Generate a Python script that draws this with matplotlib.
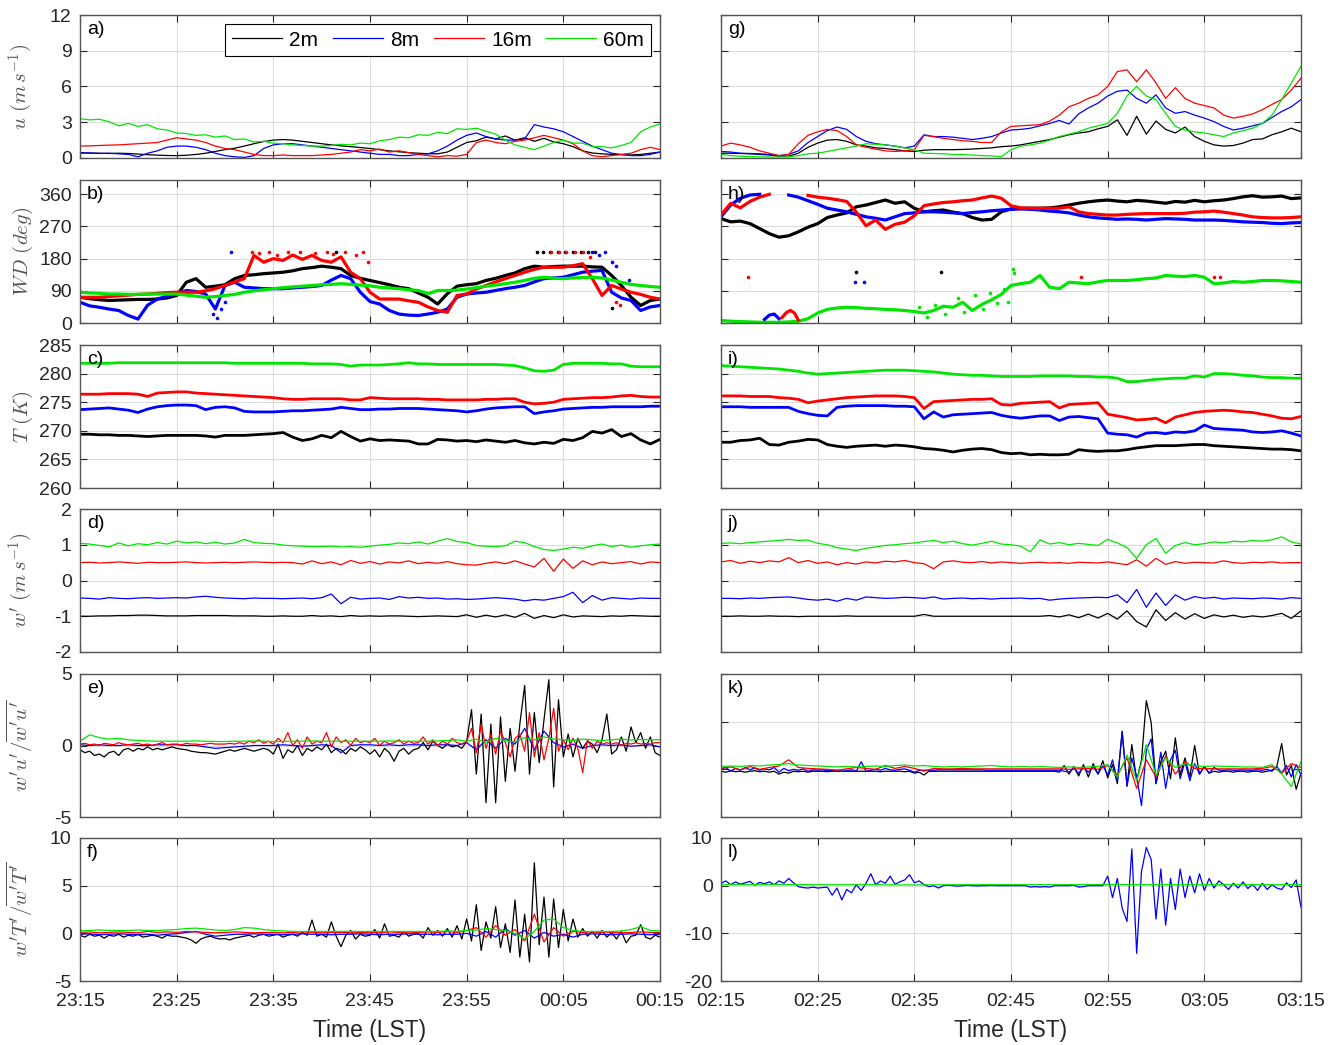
import matplotlib

matplotlib.use("Agg")

import matplotlib.pyplot as plt  # noqa: E402
import numpy as np  # noqa: E402

plt.rcParams["font.family"] = ["Liberation Sans", "DejaVu Sans"]
plt.rcParams["mathtext.fontset"] = "cm"
plt.rcParams["axes.unicode_minus"] = False

nan = np.nan

HEIGHTS = ["2m", "8m", "16m", "60m"]
COLORS = ["#000000", "#0000ff", "#ff0000", "#00e600"]

LEFT_TIME_LABELS = ["23:15", "23:25", "23:35", "23:45", "23:55", "00:05", "00:15"]
RIGHT_TIME_LABELS = ["02:15", "02:25", "02:35", "02:45", "02:55", "03:05", "03:15"]

# ---------------------------------------------------------------- a) wind speed (23:15-00:15)
a_2m = [0.45, 0.42, 0.40, 0.38, 0.40, 0.38, 0.33, 0.28, 0.24, 0.21,
        0.20, 0.23, 0.30, 0.40, 0.55, 0.70, 0.82, 1.00, 1.20, 1.38,
        1.50, 1.55, 1.50, 1.40, 1.30, 1.20, 1.10, 1.02, 0.95, 0.88,
        0.80, 0.70, 0.60, 0.52, 0.45, 0.40, 0.36, 0.35, 0.50, 0.90,
        1.30, 1.45, 1.75, 1.60, 1.85, 1.50, 1.70, 1.40, 1.65, 1.35,
        1.20, 0.95, 0.60, 0.42, 0.35, 0.30, 0.28, 0.25, 0.30, 0.40,
        0.50]
a_8m = [0.40, 0.42, 0.38, 0.40, 0.35, 0.30, 0.10, 0.40, 0.60, 0.90,
        1.00, 1.00, 0.90, 0.70, 0.40, 0.20, 0.10, 0.05, 0.20, 0.80,
        1.10, 1.20, 1.20, 1.10, 1.00, 0.90, 0.80, 0.70, 0.60, 0.50,
        0.40, 0.30, 0.30, 0.20, 0.20, 0.30, 0.35, 0.60, 1.00, 1.50,
        1.90, 2.10, 1.80, 1.60, 1.50, 1.50, 1.60, 2.80, 2.60, 2.45,
        2.20, 1.80, 1.40, 1.00, 0.70, 0.40, 0.30, 0.20, 0.20, 0.30,
        0.50]
a_16m = [1.00, 1.02, 1.05, 1.08, 1.10, 1.15, 1.20, 1.25, 1.30, 1.50,
         1.70, 1.60, 1.50, 1.30, 1.00, 0.80, 0.70, 0.50, 0.30, 0.20,
         0.20, 0.25, 0.20, 0.20, 0.20, 0.25, 0.30, 0.40, 0.50, 0.70,
         0.60, 0.75, 0.50, 0.60, 0.45, 0.30, 0.20, 0.10, 0.20, 0.15,
         0.30, 1.30, 1.50, 1.30, 1.20, 1.40, 1.50, 1.70, 1.90, 1.70,
         1.50, 1.20, 0.60, 0.20, 0.10, 0.20, 0.30, 0.40, 0.70, 0.90,
         0.70]
a_60m = [3.30, 3.20, 3.25, 3.05, 2.70, 2.90, 2.65, 2.80, 2.45, 2.35,
         2.10, 2.05, 1.90, 1.95, 1.75, 1.85, 1.55, 1.60, 1.35, 1.40,
         1.25, 1.20, 1.10, 1.05, 1.00, 1.00, 1.05, 1.15, 1.10, 1.25,
         1.20, 1.45, 1.55, 1.75, 1.70, 1.95, 1.90, 2.15, 2.05, 2.45,
         2.40, 2.50, 2.25, 2.00, 1.50, 1.10, 0.90, 0.70, 1.00, 1.30,
         1.50, 1.25, 1.25, 0.95, 0.95, 0.85, 1.05, 1.30, 2.20, 2.60,
         2.85]

# ---------------------------------------------------------------- g) wind speed (02:15-03:15)
g_2m = [0.40, 0.40, 0.38, 0.35, 0.30, 0.25, 0.15, 0.15, 0.40, 0.90,
        1.25, 1.50, 1.55, 1.40, 1.10, 1.00, 0.85, 0.80, 0.70, 0.60,
        0.55, 0.65, 0.70, 0.70, 0.70, 0.72, 0.75, 0.80, 0.85, 0.95,
        1.00, 1.10, 1.25, 1.40, 1.55, 1.75, 1.95, 2.10, 2.20, 2.45,
        2.65, 3.20, 1.90, 3.50, 2.00, 3.10, 2.40, 2.10, 2.60, 1.80,
        1.40, 1.10, 1.00, 1.05, 1.25, 1.55, 1.60, 1.95, 2.20, 2.50,
        2.20]
g_8m = [0.55, 0.50, 0.40, 0.38, 0.35, 0.30, 0.20, 0.30, 0.60, 1.30,
        1.80, 2.30, 2.60, 2.40, 1.80, 1.40, 1.20, 1.10, 1.00, 0.85,
        1.00, 1.95, 1.80, 1.80, 1.75, 1.65, 1.55, 1.65, 1.80, 2.10,
        2.35, 2.40, 2.50, 2.70, 2.90, 3.15, 2.85, 3.70, 4.20, 4.60,
        5.20, 5.60, 5.70, 5.00, 4.60, 5.30, 4.20, 3.75, 3.90, 3.60,
        3.35, 3.05, 2.65, 2.35, 2.50, 2.70, 2.90, 3.40, 3.90, 4.30,
        4.90]
g_16m = [1.00, 1.25, 1.10, 0.90, 0.60, 0.40, 0.20, 0.30, 1.20, 1.90,
         2.20, 2.40, 2.30, 1.80, 1.10, 0.90, 0.75, 0.60, 0.55, 0.60,
         0.70, 1.90, 1.80, 1.65, 1.55, 1.45, 1.40, 1.30, 1.30, 2.20,
         2.65, 2.70, 2.75, 2.80, 3.10, 3.60, 4.30, 4.60, 5.00, 5.30,
         6.00, 7.25, 7.40, 6.40, 7.40, 6.30, 5.00, 5.90, 5.00, 4.60,
         4.40, 4.20, 3.60, 3.35, 3.50, 3.70, 4.05, 4.50, 4.90, 5.70,
         6.70]
g_60m = [0.30, 0.20, 0.15, 0.12, 0.10, 0.08, 0.08, 0.10, 0.20, 0.35,
         0.40, 0.55, 0.70, 0.85, 1.00, 1.20, 1.15, 1.10, 1.00, 0.85,
         0.70, 0.40, 0.38, 0.35, 0.30, 0.28, 0.25, 0.20, 0.18, 0.10,
         0.70, 1.00, 1.10, 1.25, 1.50, 1.80, 2.00, 2.20, 2.50, 2.70,
         2.90, 3.75, 5.20, 6.00, 5.20, 4.90, 3.75, 2.65, 2.35, 2.20,
         2.10, 1.95, 1.80, 2.10, 2.30, 2.50, 2.90, 3.60, 4.90, 6.30,
         7.70]

# ---------------------------------------------------------------- b) wind direction (23:15-00:15)
b_2m = [72, 68, 65, 63, 64, 65, 66, 66, 67, 70,
        77, 114, 124, 100, 103, 107, 124, 133, 135, 138,
        140, 142, 146, 152, 155, 159, 156, 152, 133, 125,
        119, 113, 107, 100, 96, 84, 72, 53, 82, 103,
        107, 110, 119, 125, 133, 140, 152, 159, 156, 158,
        159, 159, 159, 157, 156, 133, 105, 72, 49, 63,
        67]
b_8m = [58, 48, 44, 39, 35, 21, 11, 50, 67, 75,
        81, 91, 88, 81, 39, 105, 114, 100, 98, 96,
        96, 96, 98, 100, 102, 105, 120, 133, 124, 86,
        60, 53, 35, 25, 22, 21, 25, 30, 39, 72,
        81, 84, 86, 91, 96, 100, 105, 115, 124, 126,
        128, 135, 142, 145, 147, 86, 70, 63, 35, 45,
        49]
b_16m = [72, 72, 72, 74, 76, 78, 80, 81, 83, 85,
         86, 86, 86, 90, 96, 105, 115, 124, 189, 170,
         180, 175, 190, 178, 189, 175, 170, 185, 142, 124,
         86, 67, 67, 67, 62, 58, 45, 35, 30, 77,
         81, 95, 105, 115, 124, 133, 142, 150, 156, 156,
         156, 160, 166, 124, 77, 105, 95, 86, 80, 72,
         67]
b_60m = [86, 84, 83, 81, 81, 80, 80, 81, 81, 81,
         81, 78, 75, 72, 74, 77, 80, 86, 90, 93,
         96, 99, 101, 103, 105, 107, 108, 110, 108, 106,
         104, 100, 98, 96, 93, 91, 82, 91, 91, 92,
         95, 99, 103, 106, 110, 114, 119, 125, 128, 125,
         124, 126, 127, 128, 126, 120, 114, 108, 105, 102,
         100]
# scattered single samples in b)
b_2m_dots_t = [26.5, 47.3, 47.9, 48.6, 49.4, 50.2, 51.0, 51.8, 52.6, 53.3, 55.0]
b_2m_dots_v = [200, 200, 200, 200, 200, 200, 199, 200, 200, 198, 42]
b_8m_dots_t = [13.8, 14.2, 14.6, 15.0, 15.6, 53.0, 53.7, 54.3, 55.0, 55.4, 56.8]
b_8m_dots_v = [25, 15, 40, 60, 200, 200, 190, 200, 170, 160, 120]
b_16m_dots_t = [17.8, 18.5, 19.6, 20.4, 21.5, 22.8, 24.3, 25.5, 26.2, 27.4, 28.6, 29.3, 29.8,
                48.7, 49.5, 50.3, 51.2, 52.0, 52.8, 55.4, 55.9]
b_16m_dots_v = [200, 195, 200, 190, 198, 200, 195, 200, 192, 200, 190, 200, 170,
                200, 200, 198, 200, 200, 185, 60, 50]

# ---------------------------------------------------------------- h) wind direction (02:15-03:15)
h_2m = [292, 283, 285, 278, 264, 250, 240, 244, 255, 268,
        278, 295, 302, 308, 325, 330, 337, 344, 335, 339,
        321, 311, 314, 316, 310, 306, 295, 288, 290, 311,
        319, 321, 321, 321, 322, 325, 330, 335, 339, 342,
        344, 341, 339, 343, 341, 338, 335, 340, 338, 343,
        339, 342, 344, 348, 353, 356, 352, 353, 355, 348,
        350]
h_8m = [297, 330, 349, 358, 360, nan, nan, 358, 352, 342,
        332, 321, 316, 311, 304, 297, 293, 288, 297, 306,
        308, 311, 311, 310, 308, 306, 309, 311, 314, 316,
        318, 319, 318, 316, 313, 311, 308, 302, 297, 294,
        292, 290, 291, 290, 288, 290, 292, 291, 290, 288,
        288, 288, 287, 285, 283, 282, 281, 279, 278, 280,
        281]
h_16m = [302, 335, 322, 340, 352, 360, nan, nan, nan, 357,
         352, 349, 345, 340, 310, 272, 288, 262, 276, 282,
         300, 328, 333, 337, 339, 342, 344, 350, 355, 349,
         328, 322, 321, 321, 321, 321, 325, 311, 306, 304,
         302, 302, 304, 305, 306, 306, 306, 306, 307, 310,
         311, 313, 310, 306, 302, 297, 295, 294, 294, 295,
         297]
h_60m = [7, 5, 4, 3, 2, 2, 2, 3, 5, 12,
         28, 38, 42, 44, 43, 41, 40, 38, 37, 35,
         32, 28, 35, 47, 44, 58, 35, 52, 65, 80,
         105, 110, 114, 133, 100, 96, 114, 112, 110, 115,
         119, 119, 119, 121, 124, 126, 133, 131, 130, 133,
         128, 110, 112, 116, 114, 116, 119, 119, 118, 116,
         114]
# samples that wrapped past north, and isolated samples in h)
h_8m_wrap_t = [4.5, 5.0, 5.5, 6.0]
h_8m_wrap_v = [10, 22, 25, 12]
h_16m_wrap_t = [6.3, 6.8, 7.2, 7.6, 8.0]
h_16m_wrap_v = [15, 30, 35, 28, 8]
h_2m_dots_t = [14.0, 22.8]
h_2m_dots_v = [144, 144]
h_8m_dots_t = [13.9, 14.8]
h_8m_dots_v = [116, 116]
h_16m_dots_t = [2.8, 37.2, 51.0, 51.6]
h_16m_dots_v = [128, 130, 128, 128]
h_60m_dots_t = [20.5, 21.3, 22.1, 23.2, 24.5, 25.1, 26.3, 27.1, 27.8, 28.6, 29.3, 29.7, 30.2, 30.3]
h_60m_dots_v = [45, 18, 50, 25, 70, 30, 78, 40, 85, 55, 95, 60, 152, 140]

# ---------------------------------------------------------------- c) temperature (23:15-00:15)
c_2m = [269.4, 269.4, 269.3, 269.3, 269.2, 269.2, 269.1, 269.0, 269.1, 269.2,
        269.2, 269.2, 269.2, 269.1, 268.9, 269.2, 269.2, 269.2, 269.3, 269.4,
        269.5, 269.7, 268.9, 268.3, 268.6, 269.2, 268.8, 269.9, 269.0, 268.2,
        268.6, 268.3, 268.4, 268.3, 268.2, 267.7, 267.7, 268.5, 268.4, 268.2,
        268.3, 268.1, 268.4, 268.2, 268.0, 268.3, 267.9, 267.7, 268.0, 267.8,
        268.5, 268.3, 268.8, 269.9, 269.6, 270.2, 269.0, 269.5, 268.4, 267.7,
        268.5]
c_8m = [273.7, 273.8, 273.9, 274.0, 273.8, 273.6, 273.2, 273.8, 274.2, 274.4,
        274.5, 274.5, 274.4, 273.7, 274.1, 274.2, 274.0, 273.4, 273.3, 273.3,
        273.3, 273.4, 273.5, 273.5, 273.6, 273.7, 273.8, 274.1, 273.9, 273.7,
        273.7, 273.8, 273.8, 273.9, 273.9, 273.9, 273.8, 273.7, 273.6, 273.5,
        273.3, 273.5, 273.8, 274.0, 274.1, 274.2, 274.2, 273.0, 273.3, 273.5,
        273.8, 273.9, 274.0, 274.1, 274.1, 274.2, 274.2, 274.2, 274.2, 274.3,
        274.3]
c_16m = [276.4, 276.4, 276.4, 276.5, 276.5, 276.5, 276.4, 276.0, 276.6, 276.7,
         276.8, 276.8, 276.6, 276.5, 276.4, 276.3, 276.2, 276.1, 276.0, 275.9,
         275.8, 275.6, 275.5, 275.5, 275.6, 275.6, 275.6, 275.6, 275.4, 275.4,
         275.8, 275.7, 275.6, 275.6, 275.6, 275.6, 275.5, 275.5, 275.4, 275.4,
         275.4, 275.4, 275.5, 275.5, 275.6, 275.6, 275.0, 274.7, 274.8, 275.0,
         275.5, 275.6, 275.7, 275.8, 275.8, 275.9, 276.1, 276.2, 276.0, 275.9,
         275.9]
c_60m = [281.8, 281.8, 281.8, 281.8, 281.9, 281.9, 281.9, 281.9, 281.9, 281.9,
         281.9, 281.9, 281.9, 281.9, 281.9, 281.9, 281.8, 281.8, 281.8, 281.8,
         281.8, 281.8, 281.8, 281.8, 281.7, 281.7, 281.7, 281.6, 281.3, 281.5,
         281.5, 281.5, 281.6, 281.7, 281.9, 281.7, 281.7, 281.6, 281.6, 281.6,
         281.6, 281.6, 281.6, 281.6, 281.5, 281.4, 281.0, 280.5, 280.4, 280.6,
         281.6, 281.8, 281.8, 281.8, 281.8, 281.7, 281.7, 281.3, 281.2, 281.2,
         281.2]

# ---------------------------------------------------------------- i) temperature (02:15-03:15)
i_2m = [268.0, 268.0, 268.3, 268.4, 268.7, 267.6, 267.5, 268.0, 268.2, 268.5,
        268.4, 267.6, 267.3, 267.1, 267.3, 267.4, 267.5, 267.3, 267.5, 267.4,
        267.2, 266.9, 266.8, 266.6, 266.3, 266.6, 266.8, 266.9, 266.7, 266.2,
        266.0, 266.1, 265.8, 265.9, 265.8, 265.8, 265.9, 266.7, 266.5, 266.4,
        266.5, 266.5, 266.7, 267.0, 267.2, 267.4, 267.4, 267.4, 267.5, 267.6,
        267.6, 267.4, 267.3, 267.2, 267.1, 267.0, 266.9, 266.8, 266.8, 266.7,
        266.5]
i_8m = [274.2, 274.2, 274.2, 274.1, 274.1, 274.1, 274.1, 274.1, 273.4, 273.0,
        272.7, 272.6, 274.1, 274.3, 274.4, 274.4, 274.4, 274.4, 274.3, 274.3,
        274.2, 272.1, 273.3, 272.4, 272.8, 272.9, 273.0, 273.1, 273.2, 272.7,
        272.4, 272.2, 272.4, 272.6, 272.6, 271.8, 272.4, 272.5, 272.3, 272.1,
        269.6, 269.4, 269.3, 268.9, 269.6, 269.7, 269.5, 269.8, 269.7, 270.0,
        271.0, 270.4, 270.3, 270.2, 270.1, 269.8, 269.7, 269.8, 270.0, 269.6,
        269.1]
i_16m = [276.1, 276.1, 276.1, 276.0, 276.0, 276.0, 275.8, 275.7, 275.5, 274.9,
         275.2, 275.4, 275.6, 275.8, 275.9, 276.0, 276.1, 276.1, 276.1, 276.0,
         275.8, 273.9, 275.1, 275.2, 275.3, 275.4, 275.5, 275.5, 275.6, 274.6,
         274.5, 274.8, 274.9, 275.0, 275.1, 274.0, 274.6, 274.7, 274.8, 274.9,
         272.9, 272.6, 272.3, 271.9, 272.0, 272.2, 271.4, 272.4, 272.8, 273.2,
         273.4, 273.5, 273.6, 273.5, 273.3, 273.2, 272.9, 272.6, 272.2, 272.1,
         272.5]
i_60m = [281.4, 281.3, 281.2, 281.1, 281.0, 280.9, 280.8, 280.6, 280.4, 280.1,
         279.9, 280.0, 280.1, 280.2, 280.3, 280.4, 280.5, 280.6, 280.6, 280.6,
         280.5, 280.4, 280.3, 280.1, 279.9, 279.8, 279.7, 279.7, 279.6, 279.5,
         279.5, 279.5, 279.5, 279.6, 279.6, 279.6, 279.6, 279.5, 279.5, 279.4,
         279.4, 279.2, 278.6, 278.6, 278.8, 279.0, 279.1, 279.2, 279.2, 279.6,
         279.4, 280.0, 280.0, 279.9, 279.7, 279.6, 279.4, 279.3, 279.3, 279.2,
         279.2]

# ---------------------------------------------------------------- d) w' with offsets (23:15-00:15)
d_2m = [-1.00, -1.00, -0.99, -0.99, -0.98, -0.98, -0.97, -0.97, -0.98, -0.99,
        -0.99, -0.99, -0.98, -0.98, -0.98, -0.98, -0.99, -0.99, -0.99, -1.00,
        -1.00, -0.99, -1.00, -1.00, -0.98, -1.00, -0.99, -1.01, -0.98, -1.00,
        -0.99, -1.00, -0.99, -0.99, -1.00, -1.01, -1.00, -0.99, -1.00, -1.01,
        -0.96, -1.03, -0.97, -1.02, -0.96, -1.03, -0.92, -1.06, -0.98, -1.04,
        -0.96, -1.02, -0.99, -1.00, -1.01, -0.99, -1.00, -0.98, -0.99, -1.00,
        -1.00]
d_8m = [-0.49, -0.50, -0.52, -0.48, -0.50, -0.51, -0.49, -0.48, -0.50, -0.49,
        -0.48, -0.49, -0.46, -0.44, -0.47, -0.49, -0.50, -0.51, -0.49, -0.50,
        -0.50, -0.51, -0.50, -0.49, -0.51, -0.48, -0.38, -0.65, -0.47, -0.52,
        -0.50, -0.49, -0.53, -0.45, -0.49, -0.47, -0.50, -0.49, -0.52, -0.51,
        -0.53, -0.52, -0.50, -0.48, -0.50, -0.52, -0.57, -0.53, -0.55, -0.50,
        -0.45, -0.33, -0.62, -0.42, -0.55, -0.48, -0.50, -0.52, -0.49, -0.50,
        -0.50]
d_16m = [0.50, 0.51, 0.49, 0.50, 0.52, 0.50, 0.48, 0.51, 0.50, 0.50,
         0.51, 0.52, 0.50, 0.49, 0.50, 0.51, 0.50, 0.51, 0.52, 0.51,
         0.50, 0.51, 0.50, 0.46, 0.55, 0.47, 0.52, 0.44, 0.56, 0.48,
         0.53, 0.46, 0.52, 0.49, 0.55, 0.47, 0.51, 0.48, 0.53, 0.47,
         0.44, 0.43, 0.48, 0.52, 0.47, 0.55, 0.46, 0.38, 0.62, 0.26,
         0.60, 0.34, 0.55, 0.44, 0.52, 0.47, 0.50, 0.53, 0.46, 0.52,
         0.50]
d_60m = [1.04, 1.02, 0.98, 0.94, 1.05, 0.97, 1.03, 1.00, 1.06, 1.02,
         1.10, 1.05, 1.08, 1.03, 1.07, 1.02, 1.05, 1.15, 1.06, 1.04,
         1.03, 0.99, 0.97, 0.96, 0.95, 0.95, 0.96, 0.94, 0.95, 0.93,
         0.96, 0.99, 1.01, 1.05, 1.03, 1.08, 1.02, 1.10, 1.17, 1.09,
         1.06, 0.98, 0.96, 0.95, 0.97, 1.10, 1.06, 0.95, 0.87, 0.84,
         0.88, 0.93, 0.90, 0.97, 1.02, 0.95, 0.99, 0.93, 0.97, 1.00,
         1.02]

# ---------------------------------------------------------------- j) w' with offsets (02:15-03:15)
j_2m = [-1.00, -1.00, -0.99, -1.00, -1.00, -0.99, -1.00, -1.00, -1.01, -1.00,
        -1.00, -1.00, -1.00, -0.99, -1.00, -1.00, -1.00, -1.00, -1.00, -1.00,
        -1.00, -0.95, -1.00, -1.00, -1.00, -1.00, -1.00, -1.00, -1.00, -1.00,
        -1.00, -1.00, -1.00, -1.00, -0.98, -1.02, -0.96, -1.04, -0.94, -1.05,
        -0.92, -1.08, -0.85, -1.15, -1.30, -0.82, -1.12, -0.90, -1.08, -0.93,
        -1.06, -0.96, -1.02, -0.97, -1.03, -0.99, -1.02, -0.98, -0.92, -1.06,
        -0.85]
j_8m = [-0.50, -0.50, -0.51, -0.49, -0.50, -0.48, -0.47, -0.46, -0.49, -0.53,
        -0.55, -0.52, -0.58, -0.50, -0.55, -0.46, -0.48, -0.50, -0.49, -0.47,
        -0.48, -0.50, -0.46, -0.52, -0.50, -0.49, -0.51, -0.50, -0.52, -0.50,
        -0.50, -0.49, -0.51, -0.50, -0.55, -0.52, -0.50, -0.49, -0.48, -0.47,
        -0.48, -0.40, -0.62, -0.25, -0.75, -0.35, -0.70, -0.40, -0.55, -0.45,
        -0.50, -0.47, -0.52, -0.49, -0.50, -0.51, -0.49, -0.50, -0.52, -0.48,
        -0.50]
j_16m = [0.52, 0.56, 0.48, 0.54, 0.50, 0.55, 0.52, 0.64, 0.50, 0.56,
         0.48, 0.52, 0.44, 0.50, 0.46, 0.52, 0.49, 0.54, 0.52, 0.56,
         0.50, 0.47, 0.33, 0.52, 0.55, 0.51, 0.50, 0.53, 0.49, 0.52,
         0.50, 0.48, 0.50, 0.51, 0.49, 0.50, 0.48, 0.51, 0.50, 0.49,
         0.52, 0.48, 0.44, 0.58, 0.40, 0.62, 0.45, 0.53, 0.48, 0.51,
         0.50, 0.49, 0.55, 0.50, 0.48, 0.51, 0.50, 0.52, 0.49, 0.50,
         0.50]
j_60m = [1.04, 1.05, 1.03, 1.06, 1.08, 1.10, 1.12, 1.15, 1.12, 1.13,
         1.04, 1.00, 0.92, 0.88, 0.84, 0.90, 0.94, 0.98, 1.00, 1.03,
         1.05, 1.09, 1.12, 1.06, 1.10, 1.03, 0.99, 1.04, 1.10, 1.02,
         1.00, 0.96, 0.80, 1.14, 1.02, 1.06, 1.00, 1.04, 1.01, 0.98,
         1.15, 1.05, 0.92, 0.62, 1.00, 1.18, 0.76, 0.98, 1.06, 1.00,
         1.03, 1.08, 1.05, 1.10, 1.08, 1.12, 1.10, 1.14, 1.22, 1.08,
         1.02]

# ---------------------------------------------------------------- e) normalised w'u' (23:15-00:15)
e_2m = [-0.30, -0.50, -0.40, -0.70, -0.60, -0.80, -0.50, -0.40, -0.70, -0.30,
        -0.20, -0.40, -0.20, -0.30, -0.10, -0.30, -0.20, -0.30, -0.20, -0.10,
        -0.20, -0.25, -0.30, -0.40, -0.45, -0.50, -0.50, -0.55, -0.60, -0.50,
        -0.40, -0.30, -0.40, -0.30, -0.20, -0.30, -0.40, -0.30, -0.20, -0.30,
        -0.60, 0.10, -0.90, -0.30, -0.50, 0.00, -0.70, -0.20, -0.40, -0.10,
        -0.30, 0.10, -0.50, -0.20, -0.30, -0.60, -0.20, -0.40, -0.10, -0.30,
        -0.60, -0.30, -0.80, -0.20, -0.50, -1.10, -0.40, -0.20, -0.60, -0.30,
        -0.20, 0.20, -0.30, 0.30, 0.00, -0.20, 0.10, -0.10, 0.00, -0.20,
        0.30, 2.50, -2.00, 2.20, -4.00, 1.50, -4.00, 2.00, -2.50, 1.20,
        -1.80, 1.50, 4.20, -2.00, 2.30, -1.20, 1.80, 4.60, -2.90, 3.20,
        -0.80, 0.80, -0.80, 0.50, -0.20, 0.30, 0.10, -0.50, 0.40, 2.20,
        -0.60, -0.30, 0.60, -0.40, 1.30, 0.20, 0.90, -0.20, 0.60, -0.50,
        -0.70]
e_8m = [0.05, 0.00, 0.05, 0.00, 0.00, 0.05, 0.00, 0.00, 0.05, 0.05,
        0.05, 0.00, 0.00, -0.10, -0.20, -0.15, -0.10, -0.05, 0.00, 0.00,
        0.00, 0.05, 0.00, -0.05, 0.00, 0.05, 0.00, -0.50, 0.00, 0.05,
        0.05, 0.00, 0.05, 0.00, 0.05, 0.05, 0.00, 0.05, 0.05, 0.00,
        0.20, -0.30, 0.40, -0.20, 0.50, 0.10, 1.20, -0.30, 1.00, 0.20,
        -0.10, 0.10, -0.20, 0.00, 0.05, 0.00, 0.05, -0.05, 0.00, 0.05,
        -0.10]
e_16m = [0.10, 0.15, 0.05, 0.10, 0.00, 0.15, 0.10, 0.05, 0.20, 0.10,
         0.05, 0.10, 0.15, 0.05, 0.10, 0.00, 0.10, 0.20, 0.05, 0.10,
         0.10, 0.05, 0.15, 0.10, 0.10, 0.05, 0.10, 0.15, 0.10, 0.10,
         0.10, 0.15, 0.10, 0.20, 0.10, 0.30, 0.20, 0.40, 0.15, 0.30,
         0.10, 0.50, 0.20, 0.90, 0.00, 0.40, -0.20, 0.60, 0.10, 0.30,
         0.20, 0.90, -0.10, 0.60, 0.20, 0.40, 0.00, 0.50, 0.20, 0.30,
         0.20, 0.50, 0.00, 0.30, 0.10, 0.20, 0.40, 0.10, 0.30, 0.15,
         0.20, 0.60, 0.10, 0.40, 0.00, 0.30, 0.10, 0.50, 0.20, 0.10,
         0.30, 1.20, -0.50, 1.50, -0.20, 0.80, -0.60, 1.00, 0.20, -0.80,
         0.50, 0.80, -0.40, 2.30, -0.80, 0.90, -1.00, 0.50, 2.60, -0.40,
         0.40, -0.30, 0.50, -0.20, -1.90, 0.40, -0.20, 0.30, 0.10, 0.20,
         0.10, 0.20, 0.00, 0.15, 0.10, 0.20, 0.10, 0.15, 0.10, 0.20,
         0.20]
e_60m = [0.30, 0.75, 0.55, 0.45, 0.50, 0.40, 0.35, 0.32, 0.30, 0.30,
         0.30, 0.30, 0.32, 0.30, 0.28, 0.28, 0.30, 0.30, 0.32, 0.30,
         0.28, 0.28, 0.30, 0.30, 0.32, 0.30, 0.30, 0.30, 0.30, 0.30,
         0.30, 0.30, 0.32, 0.30, 0.30, 0.30, 0.30, 0.32, 0.35, 0.40,
         0.30, 0.45, 0.20, 0.50, 0.35, 0.25, 0.55, 0.40, 0.60, 0.45,
         0.40, 0.35, 0.45, 0.40, 0.35, 0.40, 0.45, 0.38, 0.42, 0.40,
         0.40]

# ---------------------------------------------------------------- k) normalised w'u' (02:15-03:15)
k_2m = [-0.20, -0.30, -0.15, -0.25, -0.20, -0.30, -0.20, -0.15, -0.25, -0.20,
        -0.30, -0.20, -0.50, -0.30, -0.40, -0.20, -0.25, -0.20, -0.30, -0.20,
        -0.20, -0.20, -0.25, -0.20, -0.20, -0.20, -0.20, -0.20, -0.20, -0.20,
        -0.20, -0.20, -0.20, -0.25, -0.20, -0.20, -0.20, -0.20, -0.25, -0.20,
        -0.40, -0.30, -0.60, -0.20, -0.20, -0.20, -0.20, -0.20, -0.20, -0.20,
        -0.20, -0.20, -0.20, -0.20, -0.20, -0.20, -0.20, -0.20, -0.20, -0.20,
        -0.20, -0.20, -0.20, -0.20, -0.20, -0.20, -0.20, -0.20, -0.20, -0.20,
        -0.30, 0.40, -0.50, 0.30, -0.70, 0.50, -0.80, 0.60, -0.50, 0.90,
        -0.90, 0.50, -1.50, 4.00, -1.70, 2.60, -1.20, 1.00, 7.20, 4.90,
        -1.50, 0.80, 1.90, -1.00, 3.30, -0.60, 1.20, -0.80, 2.50, -0.50,
        0.30, -0.40, -0.20, -0.30, -0.20, -0.20, -0.30, -0.20, -0.20, -0.30,
        -0.20, -0.20, -0.30, -0.20, -0.10, 0.30, 2.70, -0.60, 0.40, -2.10,
        -0.40]
k_8m = [0.00, 0.20, -0.20, 0.10, -0.10, 0.20, -0.05, 0.15, -0.10, 0.05,
        -0.05, 0.20, -0.30, 0.10, -0.15, 0.00, -0.10, 0.05, -0.20, -0.05,
        -0.10, -0.05, -0.15, -0.10, -0.10, -0.20, -0.15, -0.05, -0.20, 0.80,
        -0.20, -0.10, 0.00, -0.10, 0.10, -0.05, -0.10, 0.00, 0.05, -0.10,
        -0.30, -0.10, -0.10, -0.10, -0.10, -0.05, -0.05, -0.05, -0.05, -0.05,
        -0.05, -0.05, -0.05, -0.05, -0.05, -0.10, -0.10, -0.10, -0.10, -0.10,
        -0.10, -0.10, -0.10, -0.10, -0.10, -0.10, -0.10, -0.10, -0.10, -0.10,
        -0.10, -0.20, -0.30, 0.10, -0.40, 0.20, -0.30, 0.30, -0.50, 0.40,
        -0.60, 1.00, -1.20, 3.90, -1.80, 1.20, -0.80, -3.80, 2.00, 3.20,
        -1.50, 1.80, -2.00, 1.00, 2.00, -1.00, 0.80, -1.20, 0.60, -0.50,
        0.30, -0.40, 0.20, -0.10, -0.10, -0.05, -0.10, -0.10, -0.05, -0.10,
        -0.10, -0.05, -0.10, 0.00, -0.20, 0.30, -0.40, 0.40, -0.80, 0.50,
        -0.60]
k_16m = [0.10, 0.25, -0.05, 0.30, 0.00, 0.20, 0.35, 1.00, 0.20, 0.10,
         0.05, 0.00, -0.10, 0.05, 0.20, 0.10, 0.00, 0.40, 0.10, 0.30,
         0.10, -0.20, 0.10, 0.05, 0.05, 0.10, 0.05, 0.05, 0.05, 0.05,
         0.05, 0.05, 0.05, 0.05, 0.05, 0.05, 0.00, 0.05, 0.10, 0.00,
         0.40, -0.60, 1.20, -2.00, 1.00, -0.80, 1.40, -0.50, 0.80, 0.10,
         0.10, 0.05, 0.05, 0.05, 0.05, 0.05, 0.10, 0.30, -0.40, 0.60,
         0.20]
k_60m = [0.30, 0.35, 0.30, 0.40, 0.35, 0.45, 0.50, 0.60, 0.45, 0.40,
         0.35, 0.30, 0.25, 0.30, 0.25, 0.30, 0.35, 0.30, 0.40, 0.45,
         0.35, 0.40, 0.30, 0.25, 0.30, 0.25, 0.30, 0.35, 0.40, 0.30,
         0.25, 0.30, 0.25, 0.30, 0.25, 0.20, 0.25, 0.20, 0.25, 0.30,
         0.50, -0.80, 1.50, -1.20, 2.60, -0.60, 1.20, 0.20, 0.60, 0.40,
         0.30, 0.35, 0.30, 0.30, 0.25, 0.25, 0.20, 0.50, -0.50, -1.80,
         0.80]

# ---------------------------------------------------------------- f) normalised w'T' (23:15-00:15)
f_2m = [-0.20, -0.40, -0.10, -0.30, -0.20, -0.50, -0.20, -0.30, -0.10, -0.40,
        -0.20, -0.30, -0.10, -0.40, -0.30, -0.20, -0.30, -0.50, -0.20, -0.30,
        -0.30, -0.40, -0.50, -0.70, -1.05, -0.60, -0.40, -0.30, -0.50, -0.60,
        -0.55, -0.70, -0.50, -0.40, -0.30, -0.20, -0.40, -0.20, -0.10, -0.30,
        -0.20, -0.10, -0.40, -0.20, -0.10, -0.30, 0.10, -0.20, 1.40, -0.30,
        -0.10, -0.40, 1.20, -0.30, -1.40, -0.20, 0.30, -0.60, -0.10, -0.30,
        -0.20, 0.40, -0.50, 1.00, -0.30, -0.20, -0.40, 0.20, -0.30, -0.10,
        0.00, -0.50, 0.60, -0.20, 0.30, -0.30, 0.50, -0.40, 0.80, -0.60,
        1.50, -0.80, 3.00, -1.80, 1.20, -0.50, 2.80, -1.50, 1.00, -2.00,
        3.50, -2.50, 2.00, -3.00, 7.40, -1.20, 3.80, -2.50, 3.60, -1.50,
        2.50, -0.80, 1.50, -0.40, 0.50, -0.30, 0.20, -0.50, 0.30, -0.40,
        0.10, -0.60, 0.20, -1.00, -0.30, -0.20, 0.90, -0.40, -0.60, -0.20,
        -0.40]
f_8m = [-0.10, -0.05, -0.15, -0.10, -0.05, -0.10, -0.15, -0.10, -0.20, -0.10,
        -0.05, 0.10, 0.20, -0.10, -0.30, -0.20, -0.10, -0.10, -0.05, -0.10,
        -0.10, -0.15, -0.10, -0.05, -0.10, -0.10, -0.15, -0.10, -0.10, -0.05,
        -0.10, -0.15, -0.10, -0.10, -0.05, -0.10, -0.10, -0.15, -0.10, -0.10,
        0.00, -0.30, 0.20, -0.40, 0.50, -0.20, 0.30, -0.50, 0.10, -0.30,
        -0.10, -0.40, -0.10, -0.05, -0.10, -0.15, -0.10, -0.05, -0.10, -0.15,
        -0.10]
f_16m = [0.10, 0.15, 0.05, 0.10, 0.15, 0.10, 0.05, 0.20, 0.10, 0.15,
         0.10, 0.20, 0.15, 0.10, 0.05, 0.10, 0.15, 0.10, 0.05, 0.10,
         0.10, 0.05, 0.10, 0.15, 0.10, 0.05, 0.10, 0.10, 0.05, 0.10,
         0.10, 0.05, 0.15, 0.10, 0.05, 0.10, 0.15, 0.10, 0.20, 0.10,
         0.30, 0.60, -0.40, 0.80, -0.20, 0.40, -0.80, 2.00, -0.90, 0.60,
         -0.30, 0.20, 0.10, 0.00, 0.15, 0.10, 0.05, 0.10, 0.15, 0.10,
         0.10]
f_60m = [0.30, 0.30, 0.35, 0.30, 0.30, 0.30, 0.35, 0.30, 0.30, 0.35,
         0.40, 0.50, 0.55, 0.45, 0.35, 0.30, 0.40, 0.60, 0.55, 0.40,
         0.30, 0.25, 0.20, 0.20, 0.20, 0.20, 0.20, 0.20, 0.20, 0.20,
         0.20, 0.20, 0.20, 0.20, 0.20, 0.20, 0.20, 0.20, 0.25, 0.20,
         0.30, 0.35, 0.50, 0.40, 0.30, 0.00, -0.60, 0.20, 1.40, 1.50,
         0.60, 0.30, 0.20, 0.20, 0.20, 0.20, 0.25, 0.40, 0.70, 0.30,
         0.25]

# ---------------------------------------------------------------- l) normalised w'T' (02:15-03:15)
l_8m = [0.50, 1.00, 0.20, 0.80, 0.30, 0.60, 0.90, 0.10, 0.70, 0.40,
        0.80, 0.20, 1.00, 0.50, 1.50, 0.60, -0.20, -0.40, -0.50, -0.30,
        -0.50, -0.40, -0.30, -2.00, -0.50, -3.00, -0.80, -1.50, 0.20, -1.00,
        0.50, 2.50, 0.20, 1.00, 0.50, 2.00, 0.30, 0.80, 1.20, 2.30,
        0.60, 1.00, 0.20, -0.20, 0.00, -0.50, 0.00, 0.10, 0.00, -0.10,
        0.00, 0.05, 0.00, -0.05, 0.00, 0.00, 0.05, 0.00, 0.00, 0.00,
        0.00, 0.00, 0.00, 0.00, -0.30, -0.20, -0.30, -0.20, -0.30, 0.00,
        0.00, 0.00, 0.00, 0.10, -0.30, -0.20, 0.00, 0.00, 0.00, 0.00,
        2.00, -2.50, 1.50, -4.70, -7.50, 7.70, -14.20, 3.00, 8.00, 5.50,
        -7.00, 3.50, -8.30, 1.50, -5.00, 3.50, -2.50, 2.00, -1.50, 2.50,
        -1.00, 1.50, -0.50, 1.00, 0.20, -0.80, 0.50, -0.50, 0.80, -0.60,
        0.30, -1.00, 0.50, -0.80, 0.20, -0.50, -0.80, 0.60, -0.40, 1.20,
        -4.50]
l_60m = [0.20, 0.25, 0.20, 0.20, 0.15, 0.20, 0.20, 0.20, 0.25, 0.20, 0.20, 0.20, 0.20]


def tgrid(values):
    return np.linspace(0, 60, len(values))


def style_axis(ax, ylim, yticks, left_col, bottom_row, show_yticklabels):
    ax.set_xlim(0, 60)
    ax.set_ylim(*ylim)
    ax.set_xticks(np.arange(0, 61, 10))
    ax.set_yticks(yticks)
    ax.grid(True, color="#dcdcdc", lw=0.8)
    ax.set_axisbelow(True)
    ax.tick_params(direction="in", length=5, width=0.8, top=True, right=True,
                   labelsize=14, colors="#262626", pad=6)
    ax.tick_params(axis="x", pad=9)
    for spine in ax.spines.values():
        spine.set_color("#555555")
        spine.set_linewidth(1.0)
    if bottom_row:
        ax.set_xticklabels(LEFT_TIME_LABELS if left_col else RIGHT_TIME_LABELS)
        ax.set_xlabel("Time (LST)", fontsize=16.5, color="#262626", labelpad=6)
    else:
        ax.set_xticklabels([])
    if not show_yticklabels:
        ax.set_yticklabels([])


def draw_lines(ax, series, lw):
    for vals, color in zip(series, COLORS):
        ax.plot(tgrid(vals), vals, color=color, lw=lw, solid_joinstyle="round")


def draw_dots(ax, t, v, color):
    ax.plot(t, v, linestyle="none", marker="o", ms=2.6, color=color, mec="none")


fig = plt.figure(figsize=(13.4, 10.45), dpi=100)
W, H = 1340.0, 1045.0
col_left = [80, 721]
row_top = [15, 180, 345, 509, 674, 838]
ax_w, ax_h = 580, 143


def make_ax(col, row):
    return fig.add_axes([col_left[col] / W, 1 - (row_top[row] + ax_h) / H, ax_w / W, ax_h / H])


rows = [
    # (left series, right series, ylim left, yticks left, ylim right, yticks right, ylabel, lw)
    ([a_2m, a_8m, a_16m, a_60m], [g_2m, g_8m, g_16m, g_60m], (0, 12), [0, 3, 6, 9, 12],
     (0, 12), [0, 3, 6, 9, 12], r"$u\ (m\,s^{-1})$", 0.9),
    ([b_2m, b_8m, b_16m, b_60m], [h_2m, h_8m, h_16m, h_60m], (0, 400), [0, 90, 180, 270, 360],
     (0, 400), [0, 90, 180, 270, 360], r"$WD\ (deg)$", 2.3),
    ([c_2m, c_8m, c_16m, c_60m], [i_2m, i_8m, i_16m, i_60m], (260, 285), list(range(260, 286, 5)),
     (260, 285), list(range(260, 286, 5)), r"$T\ (K)$", 2.0),
    ([d_2m, d_8m, d_16m, d_60m], [j_2m, j_8m, j_16m, j_60m], (-2, 2), [-2, -1, 0, 1, 2],
     (-2, 2), [-2, -1, 0, 1, 2], r"$w'\ (m\,s^{-1})$", 0.9),
    ([e_2m, e_8m, e_16m, e_60m], [k_2m, k_8m, k_16m, k_60m], (-5, 5), [-5, 0, 5],
     (-5, 10), [-5, 0, 5, 10], r"$w'u'/\overline{w'u'}$", 0.9),
    ([f_2m, f_8m, f_16m, f_60m], None, (-5, 10), [-5, 0, 5, 10],
     (-20, 10), [-20, -10, 0, 10], r"$w'T'/\overline{w'T'}$", 0.9),
]
left_letters = "abcdef"
right_letters = "ghijkl"

axes = {}
for r, (ls, rs, yl_l, yt_l, yl_r, yt_r, ylabel, lw) in enumerate(rows):
    axl = make_ax(0, r)
    axr = make_ax(1, r)
    axes[left_letters[r]] = axl
    axes[right_letters[r]] = axr
    style_axis(axl, yl_l, yt_l, True, r == 5, True)
    style_axis(axr, yl_r, yt_r, False, r == 5, r == 5)
    draw_lines(axl, ls, lw)
    if rs is not None:
        draw_lines(axr, rs, lw)
    axl.set_ylabel(ylabel, fontsize=15, color="#555555")
    axl.yaxis.set_label_coords(-0.078, 0.5)
    axl.text(0.012, 0.955, left_letters[r] + ")", transform=axl.transAxes,
             fontsize=14, va="top", ha="left")
    axr.text(0.012, 0.955, right_letters[r] + ")", transform=axr.transAxes,
             fontsize=14, va="top", ha="left")

# l) only 8m and 60m
axes["l"].plot(tgrid(l_8m), l_8m, color=COLORS[1], lw=0.9)
axes["l"].plot(tgrid(l_60m), l_60m, color=COLORS[3], lw=0.9)

# scattered wind-direction samples
draw_dots(axes["b"], b_2m_dots_t, b_2m_dots_v, COLORS[0])
draw_dots(axes["b"], b_8m_dots_t, b_8m_dots_v, COLORS[1])
draw_dots(axes["b"], b_16m_dots_t, b_16m_dots_v, COLORS[2])
axes["h"].plot(h_8m_wrap_t, h_8m_wrap_v, color=COLORS[1], lw=2.3)
axes["h"].plot(h_16m_wrap_t, h_16m_wrap_v, color=COLORS[2], lw=2.3)
draw_dots(axes["h"], h_2m_dots_t, h_2m_dots_v, COLORS[0])
draw_dots(axes["h"], h_8m_dots_t, h_8m_dots_v, COLORS[1])
draw_dots(axes["h"], h_16m_dots_t, h_16m_dots_v, COLORS[2])
draw_dots(axes["h"], h_60m_dots_t, h_60m_dots_v, COLORS[3])

# legend in a)
handles = axes["a"].get_lines()[:4]
leg = axes["a"].legend(handles, HEIGHTS, ncol=4, loc="upper right", fontsize=15,
                       handlelength=2.4, handletextpad=0.35, columnspacing=0.7,
                       borderpad=0.3, borderaxespad=0.45, fancybox=False,
                       edgecolor="#000000", framealpha=1.0)
leg.get_frame().set_linewidth(0.8)

fig.savefig("out.png", dpi=100)
